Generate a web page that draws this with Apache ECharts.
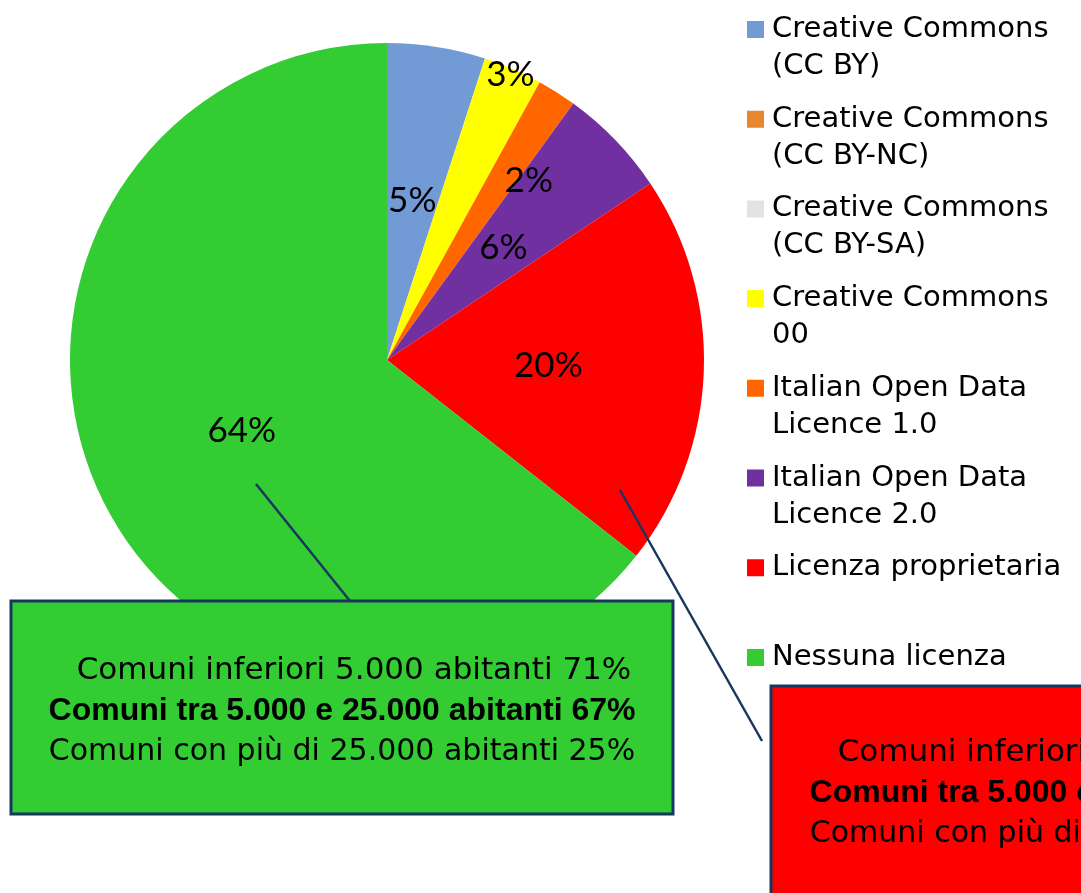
<!DOCTYPE html>
<html>
<head>
<meta charset="utf-8">
<script src="https://cdn.jsdelivr.net/npm/echarts@6/dist/echarts.min.js"></script>
<style>
  html, body { margin: 0; padding: 0; background: #fff; }
  #main { width: 1081px; height: 893px; }
</style>
</head>
<body>
<div id="main"></div>
<script>
// dati del grafico (percentuali)
var categories = [
    'Creative Commons (CC BY)',
    'Creative Commons (CC BY-NC)',
    'Creative Commons (CC BY-SA)',
    'Creative Commons 00',
    'Italian Open Data Licence 1.0',
    'Italian Open Data Licence 2.0',
    'Licenza proprietaria',
    'Nessuna licenza'
];
// testo della legenda, a capo come nella figura
var legendLabels = [
    'Creative Commons\n(CC BY)',
    'Creative Commons\n(CC BY-NC)',
    'Creative Commons\n(CC BY-SA)',
    'Creative Commons\n00',
    'Italian Open Data\nLicence 1.0',
    'Italian Open Data\nLicence 2.0',
    'Licenza proprietaria\n',
    'Nessuna licenza\n'
];
var values = [5, 0, 0, 3, 2, 5.6, 20, 64.4];
var colors = ['#729BD5', '#E8872E', '#E3E3E3', '#FFFF00', '#FF6600', '#7030A0', '#FF0000', '#33CC33'];

// riquadri di dettaglio
var greenLines = ['Comuni inferiori 5.000 abitanti 71%', 'Comuni tra 5.000 e 25.000 abitanti 67%', 'Comuni con più di 25.000 abitanti 25%'];
var redLines = ['Comuni inferiori 5.000 abitanti 15%', 'Comuni tra 5.000 e 25.000 abitanti 21%', 'Comuni con più di 25.000 abitanti 46%'];

var myChart = echarts.init(document.getElementById('main'));

var cx = 387, cy = 360, R = 317;
// etichette spostate: frazione del raggio e rotazione in gradi
var labelMove = { 3: { r: 0.98, turn: 0 }, 4: { r: 0.72, turn: 6 } };

var pieData = categories.map(function (name, i) {
    var item = { name: name, value: values[i], itemStyle: { color: colors[i] } };
    if (values[i] === 0) {
        item.label = { show: false };
    }
    return item;
});

var boxFontSize = [31, 32, 30];
var boxShift = [12, 0, 0];

function boxTexts(lines, x, y0) {
    return lines.map(function (t, i) {
        return {
            type: 'text',
            z: 101,
            style: {
                text: t,
                x: x + boxShift[i],
                y: y0 + i * 40.5,
                align: 'center',
                verticalAlign: 'middle',
                fill: '#000',
                fontFamily: i === 1 ? '"Liberation Sans"' : '"DejaVu Sans"',
                fontWeight: i === 1 ? 'bold' : 'normal',
                fontSize: boxFontSize[i]
            }
        };
    });
}

var option = {
    backgroundColor: '#fff',
    animation: false,
    legend: {
        orient: 'vertical',
        left: 747,
        top: 11,
        padding: 0,
        itemWidth: 17,
        itemHeight: 54,
        itemGap: 15.7,
        icon: 'path://M0,0H17V17H0Z M0,54H0.01',
        selectedMode: false,
        data: categories,
        formatter: function (name) {
            return legendLabels[categories.indexOf(name)];
        },
        textStyle: {
            fontFamily: '"DejaVu Sans"',
            fontSize: 29,
            lineHeight: 37,
            padding: [0, 0, 0, 3],
            color: '#000'
        }
    },
    series: [
        {
            type: 'pie',
            center: [cx, cy],
            radius: R,
            startAngle: 90,
            clockwise: true,
            silent: true,
            data: pieData,
            itemStyle: { borderWidth: 0 },
            label: {
                show: true,
                position: 'inside',
                formatter: function (p) {
                    return Math.round(p.value) + '%';
                },
                fontFamily: 'Lato',
                fontSize: 35,
                color: '#000'
            },
            labelLine: { show: false },
            labelLayout: function (params) {
                var m = labelMove[params.dataIndex];
                if (!m) return {};
                var rc = params.labelRect;
                var ox = rc.x + rc.width / 2, oy = rc.y + rc.height / 2;
                var a = Math.atan2(ox - cx, cy - oy) + m.turn * Math.PI / 180;
                var rr = R * m.r;
                return {
                    dx: cx + rr * Math.sin(a) - ox,
                    dy: cy - rr * Math.cos(a) - oy
                };
            }
        }
    ],
    graphic: [
        {
            type: 'line', z: 100,
            shape: { x1: 256, y1: 484, x2: 350, y2: 601 },
            style: { stroke: '#17375E', lineWidth: 2.5 }
        },
        {
            type: 'line', z: 100,
            shape: { x1: 620, y1: 490, x2: 762, y2: 741 },
            style: { stroke: '#17375E', lineWidth: 2.5 }
        },
        {
            type: 'rect', z: 100,
            shape: { x: 11, y: 601, width: 662, height: 213 },
            style: { fill: '#33CC33', stroke: '#17375E', lineWidth: 3 }
        },
        {
            type: 'rect', z: 100,
            shape: { x: 771, y: 686, width: 663, height: 213 },
            style: { fill: '#FF0000', stroke: '#17375E', lineWidth: 3 }
        }
    ].concat(boxTexts(greenLines, 342, 671), boxTexts(redLines, 1103, 753))
};

myChart.setOption(option);
</script>
</body>
</html>
